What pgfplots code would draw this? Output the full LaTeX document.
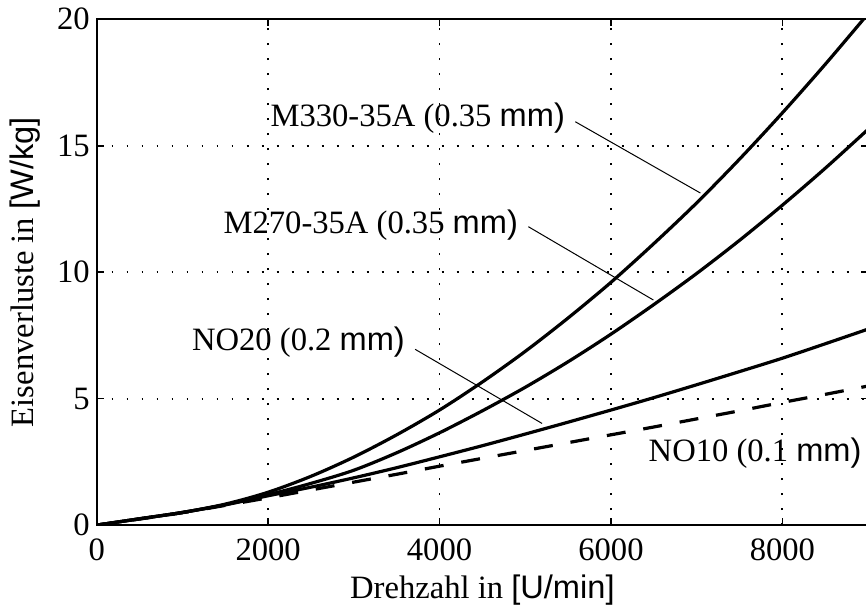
\documentclass[border=0pt]{standalone}
\usepackage{fontspec}
\setmainfont{Liberation Serif}
\setsansfont{Liberation Sans}
\usepackage{pgfplots}
\pgfplotsset{compat=1.18}
\newcommand{\fs}{\fontsize{16.3}{19.5}\selectfont}

\begin{document}
\begin{tikzpicture}
\begin{axis}[
  scale only axis, width=385.7pt, height=252.9pt,
  xmin=0, xmax=9000, ymin=0, ymax=20,
  xtick={0,2000,4000,6000,8000}, ytick={0,5,10,15,20},
  scaled x ticks=false,
  /pgf/number format/1000 sep={},
  /pgf/number format/assume math mode=true,
  tick label style={font=\fs},
  xticklabel style={yshift=-3.5pt},
  tick align=inside, major tick length=3.5pt,
  every tick/.style={black, line width=0.8pt},
  axis line style={line width=1pt},
  grid=major,
  major grid style={black, line width=0.9pt, dash pattern=on 0.9pt off 6.6pt},
  xlabel={Drehzahl in \textsf{[U/min]}},
  ylabel={Eisenverluste in \textsf{[W/kg]}},
  every axis x label/.style={at={(axis description cs:0.5,-0.1285)}, anchor=center, font=\fs},
  every axis y label/.style={at={(axis description cs:-0.0931,0.5)}, anchor=center, rotate=90, font=\fs},
]
% M330-35A
\addplot[black, line width=1.6pt, smooth] coordinates {
  (0,0) (500,0.25) (1000,0.5) (1500,0.83) (2000,1.3) (2500,1.93) (3000,2.69)
  (3500,3.57) (4000,4.55) (4500,5.66) (5000,6.87) (5500,8.19) (6000,9.6)
  (6500,11.13) (7000,12.74) (7500,14.47) (8000,16.3) (8500,18.22) (9000,20.22)};
% M270-35A
\addplot[black, line width=1.6pt, smooth] coordinates {
  (0,0) (500,0.25) (1000,0.5) (1500,0.81) (2000,1.2) (2500,1.65) (3000,2.17)
  (3500,2.86) (4000,3.65) (4500,4.52) (5000,5.45) (5500,6.46) (6000,7.55)
  (6500,8.72) (7000,9.95) (7500,11.26) (8000,12.65) (8500,14.11) (9000,15.65)};
% NO20
\addplot[black, line width=1.6pt, smooth] coordinates {
  (0,0) (500,0.25) (1000,0.5) (1500,0.8) (2000,1.16) (2500,1.5) (3000,1.87)
  (3500,2.27) (4000,2.7) (4500,3.14) (5000,3.6) (5500,4.07) (6000,4.55)
  (6500,5.04) (7000,5.55) (7500,6.07) (8000,6.6) (8500,7.17) (9000,7.75)};
% NO10
\addplot[black, line width=1.6pt, smooth, dash pattern=on 9.5pt off 9pt] coordinates {
  (0,0) (500,0.24) (1000,0.49) (1500,0.78) (2000,1.08) (2500,1.39) (3000,1.7)
  (3500,2.01) (4000,2.33) (4500,2.64) (5000,2.95) (5500,3.26) (6000,3.57)
  (6500,3.88) (7000,4.2) (7500,4.52) (8000,4.85) (8500,5.17) (9000,5.5)};

% leader lines
\addplot[black, line width=0.5pt] coordinates {(5584,15.95) (7044,13.13)};
\addplot[black, line width=0.5pt] coordinates {(5036,11.8) (6495,8.9)};
\addplot[black, line width=0.5pt] coordinates {(3716,6.95) (5196,4.02)};

\node[font=\fs, anchor=east, inner sep=0pt] at (axis cs:5467,16.1) {M330-35A (0.35 \textsf{mm)}};
\node[font=\fs, anchor=east, inner sep=0pt] at (axis cs:4919,11.87) {M270-35A (0.35 \textsf{mm)}};
\node[font=\fs, anchor=east, inner sep=0pt] at (axis cs:3600,7.25) {NO20 (0.2 \textsf{mm)}};
\node[font=\fs, anchor=west, inner sep=0pt] at (axis cs:6436,2.84) {NO10 (0.1 \textsf{mm)}};
\end{axis}
\pgfresetboundingbox
\path[use as bounding box] (-48.35pt,-43.5pt) rectangle (384.65pt,262.55pt);
\end{tikzpicture}
\end{document}
